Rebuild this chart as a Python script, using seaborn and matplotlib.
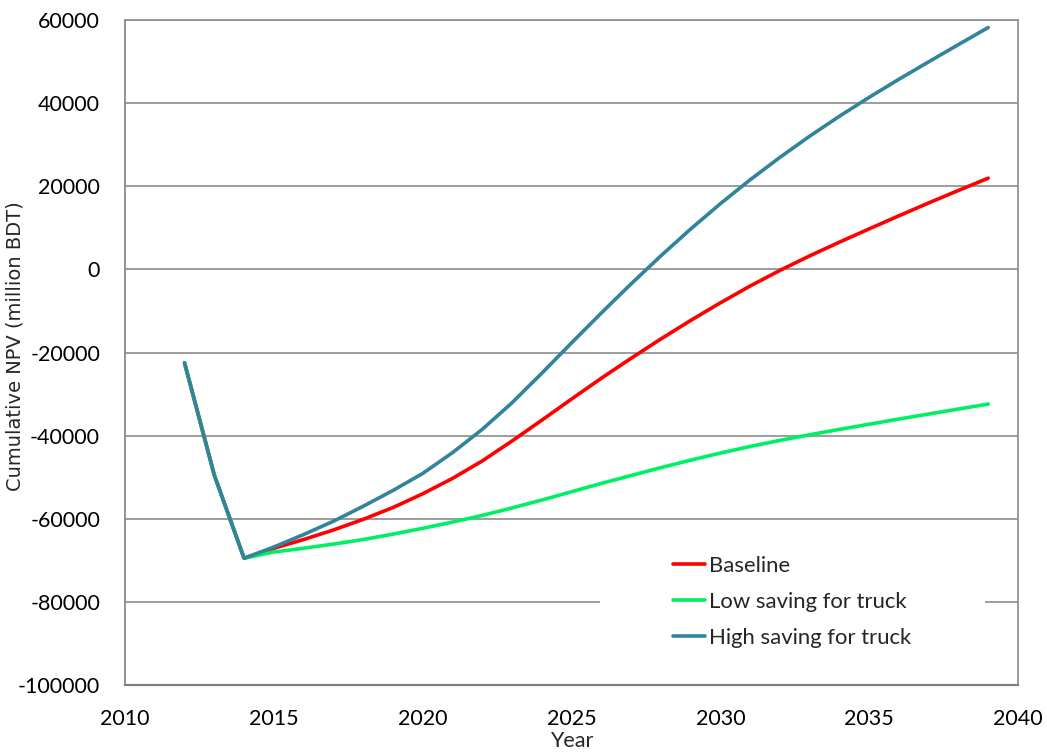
import matplotlib
matplotlib.use("Agg")
import matplotlib.pyplot as plt
from matplotlib.patches import Rectangle
import seaborn as sns
import pandas as pd

years = list(range(2012, 2040))

baseline = [-22500, -49500, -69500, -67100, -65000, -62700, -60150, -57300,
            -54000, -50300, -46100, -41300, -36300, -31200, -26200, -21400,
            -16750, -12300, -8050, -4000, -250, 3250, 6550, 9750,
            12900, 16000, 19000, 21950]

low_saving = [-22500, -49500, -69500, -68000, -67100, -66100, -65000, -63700,
              -62300, -60800, -59200, -57400, -55500, -53500, -51500, -49600,
              -47700, -45900, -44200, -42600, -41150, -39800, -38500, -37250,
              -36000, -34800, -33600, -32400]

high_saving = [-22500, -49500, -69500, -66800, -63800, -60600, -57000, -53200,
               -49100, -44100, -38500, -32100, -25000, -17700, -10500, -3500,
               3250, 9700, 15800, 21550, 26950, 32050, 36850, 41400,
               45750, 49950, 54100, 58200]

series_names = ["Baseline", "Low saving for truck", "High saving for truck"]
series_colors = ["#FF0000", "#00F064", "#31849B"]

x_ticks = list(range(2010, 2041, 5))
y_ticks = list(range(-100000, 60001, 20000))

df = pd.DataFrame({
    "Year": years * 3,
    "NPV": baseline + low_saving + high_saving,
    "Scenario": [series_names[0]] * len(years)
              + [series_names[1]] * len(years)
              + [series_names[2]] * len(years),
})

sns.set_theme(style="white")
plt.rcParams["font.family"] = ["Lato", "DejaVu Sans"]

fig = plt.figure(figsize=(10.47, 7.53), dpi=100)
ax = fig.add_axes([0.1194, 0.0903, 0.8529, 0.8831])

sns.lineplot(data=df, x="Year", y="NPV", hue="Scenario",
             palette=dict(zip(series_names, series_colors)),
             hue_order=series_names, linewidth=2.6, ax=ax, zorder=3)

ax.set_xlim(2010, 2040)
ax.set_ylim(-100000, 60000)
ax.set_xticks(x_ticks)
ax.set_yticks(y_ticks)
ax.set_xticklabels([str(t) for t in x_ticks], fontsize=15.5)
ax.set_yticklabels([str(t) for t in y_ticks], fontsize=15.5)

ax.grid(axis="y", color="#8C8C8C", linewidth=1.2)
ax.grid(axis="x", visible=False)
ax.set_axisbelow(True)

for side in ["left", "bottom", "right", "top"]:
    ax.spines[side].set_color("#8C8C8C")
    ax.spines[side].set_linewidth(1.2)
ax.spines["left"].set_color("#7F7F7F")
ax.spines["bottom"].set_color("#7F7F7F")
ax.spines["bottom"].set_linewidth(1.6)

ax.tick_params(axis="both", which="major", direction="out", length=5,
               width=1, color="#7F7F7F", labelcolor="black")
ax.tick_params(axis="y", pad=13)
ax.tick_params(axis="x", pad=12)

ax.set_xlabel("Year", fontsize=15.5, labelpad=2)
ax.set_ylabel("Cumulative NPV (million BDT)", fontsize=14,
              family=["DejaVu Sans"])
ax.yaxis.set_label_coords(-0.113, 0.51)

# white panel behind the legend, hiding the gridline it sits on
ax.add_patch(Rectangle((0.532, 0.0376), 0.431, 0.173, transform=ax.transAxes,
                       facecolor="white", edgecolor="none", zorder=2))

leg = ax.legend(loc="upper left", bbox_to_anchor=(0.6137, 0.194),
                frameon=False, fontsize=15.9, handlelength=1.45,
                handletextpad=0.2, labelspacing=0.72, borderpad=0,
                borderaxespad=0, title=None)
leg.set_zorder(5)
for line in leg.get_lines():
    line.set_linewidth(2.6)

fig.savefig("out.png", dpi=100, facecolor="white")
